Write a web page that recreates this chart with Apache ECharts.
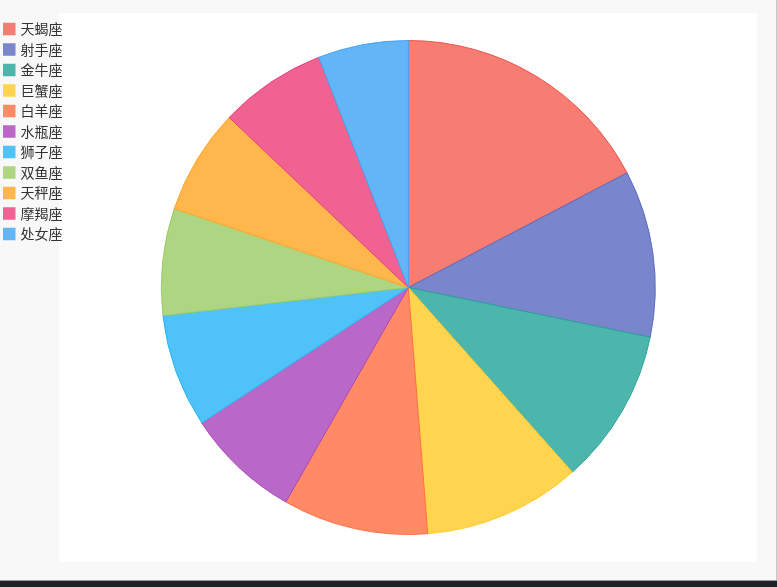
<!DOCTYPE html>
<html>
<head>
<meta charset="utf-8">
<script src="https://cdn.jsdelivr.net/npm/echarts@6/dist/echarts.min.js"></script>
<style>
html,body{margin:0;padding:0;width:777px;height:587px;overflow:hidden;background:#f8f8f8;}
#panel{position:absolute;left:59px;top:13px;width:698px;height:549px;background:#ffffff;}
#chart{position:absolute;left:0;top:0;width:777px;height:587px;}
#vline{position:absolute;left:776px;top:0;width:1px;height:581px;background:#c8c8c8;}
#bar{position:absolute;left:0;top:580px;width:777px;height:7px;background:#202124;border-top:1px solid #9a9a9a;box-sizing:border-box;}
</style>
</head>
<body>
<div id="panel"></div>
<div id="chart"></div>
<div id="vline"></div>
<div id="bar"></div>
<script>
var categories = ['天蝎座','射手座','金牛座','巨蟹座','白羊座','水瓶座','狮子座','双鱼座','天秤座','摩羯座','处女座'];
var values = [173, 109, 102, 103, 95, 75, 74, 70, 69, 70, 59];
var fillColors = ['#F77C72','#7986CB','#4DB6AC','#FFD54F','#FF8A65','#BA68C8','#4FC3F7','#AED581','#FFB74D','#F06292','#64B5F6'];
var borderColors = ['#EF5350','#5C6BC0','#26A69A','#FFCA28','#FF7043','#AB47BC','#29B6F6','#9CCC65','#FFA726','#EC407A','#42A5F5'];

var chart = echarts.init(document.getElementById('chart'));
var data = categories.map(function (name, i) {
  return {
    name: name,
    value: values[i],
    itemStyle: { color: fillColors[i], borderColor: borderColors[i], borderWidth: 1 }
  };
});
chart.setOption({
  animation: false,
  backgroundColor: 'transparent',
  legend: {
    orient: 'vertical',
    left: 3,
    top: 22,
    padding: 0,
    itemWidth: 12.5,
    itemHeight: 12.5,
    itemGap: 6.5,
    icon: 'rect',
    itemStyle: { borderWidth: 0 },
    textStyle: { fontSize: 14, color: '#333', fontFamily: 'Noto Sans CJK SC' },
    data: categories
  },
  series: [{
    type: 'pie',
    center: [408.3, 287.5],
    radius: 247,
    startAngle: 90,
    clockwise: true,
    label: { show: false },
    labelLine: { show: false },
    data: data
  }]
});
</script>
</body>
</html>
